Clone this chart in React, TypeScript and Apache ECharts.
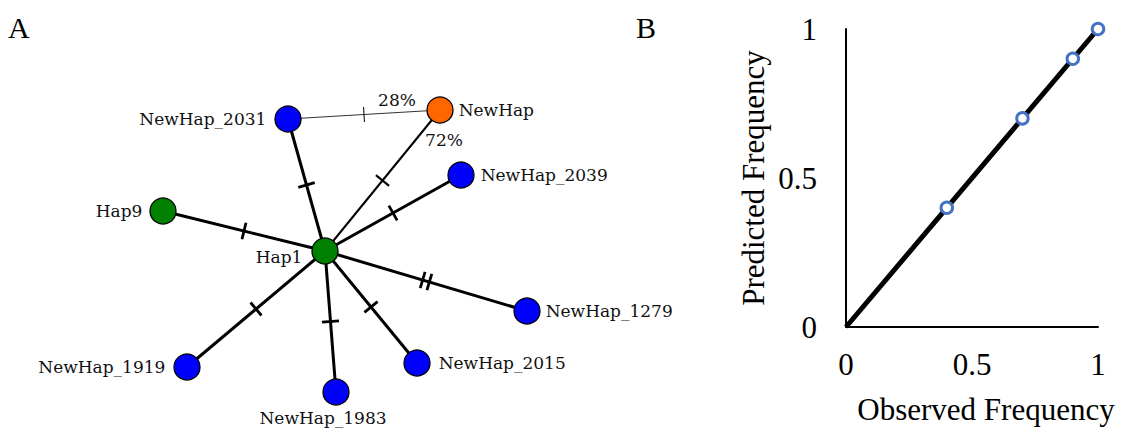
import { useEffect, useRef } from 'react';
import * as echarts from 'echarts';

// ---------- Panel A: haplotype network ----------
const nodeNames = ['Hap1', 'Hap9', 'NewHap_2031', 'NewHap', 'NewHap_2039', 'NewHap_1279', 'NewHap_2015', 'NewHap_1983', 'NewHap_1919'];
const nodeX = [325, 163, 288, 440, 461, 527, 417, 336, 187];
const nodeY = [251, 211, 119, 110, 175, 311, 363, 392, 367];
const nodeKinds = ['known', 'known', 'new', 'query', 'new', 'new', 'new', 'new', 'new'];
const labelSides = ['left', 'left', 'left', 'right', 'right', 'right', 'right', 'bottom', 'left'];

const edgeSource = ['Hap1', 'Hap1', 'Hap1', 'Hap1', 'Hap1', 'Hap1', 'Hap1', 'Hap1', 'NewHap_2031'];
const edgeTarget = ['Hap9', 'NewHap_2031', 'NewHap', 'NewHap_2039', 'NewHap_1279', 'NewHap_2015', 'NewHap_1983', 'NewHap_1919', 'NewHap'];
const edgeMutations = [1, 1, 1, 1, 2, 1, 1, 1, 1];
const edgeKinds = ['main', 'main', 'query', 'main', 'main', 'main', 'main', 'main', 'minor'];

const edgeLabelTexts = ['28%', '72%'];
const edgeLabelX = [397, 444];
const edgeLabelY = [100, 140];

// ---------- Panel B: observed vs predicted ----------
const observedFreq = [0.4, 0.7, 0.9, 1.0];
const predictedFreq = [0.4, 0.7, 0.9, 1.0];
const fitLineX = [0, 1];
const fitLineY = [0, 1];

const kindColor: Record<string, string> = { known: '#008000', new: '#0000FF', query: '#FF6600' };
const edgeWidth: Record<string, number> = { main: 3, query: 2, minor: 1 };
const edgeColor: Record<string, string> = { main: '#000000', query: '#000000', minor: '#333333' };

const serif = 'Liberation Serif';
const netFont = 'DejaVu Serif';

function labelFor(side: string, name: string) {
  const base: any = {
    show: true,
    position: side,
    fontFamily: netFont,
    fontSize: 17,
    color: '#111',
    distance: 7,
  };
  if (name === 'Hap1') { base.offset = [-2, 6]; }
  if (name === 'NewHap' || name === 'NewHap_1279') { base.distance = 5; }
  if (name === 'NewHap_2039') { base.distance = 6; }
  if (name === 'NewHap_2015' || name === 'NewHap_1919' || name === 'NewHap_2031') { base.distance = 8; }
  if (side === 'bottom') { base.offset = [-13, 0]; base.distance = 4; }
  return base;
}

export default function App() {
  const ref = useRef<HTMLDivElement>(null);
  useEffect(() => {
    document.body.style.margin = '0';
    if (!ref.current) return;
    const chart = echarts.init(ref.current, undefined, { renderer: 'svg' });

    const pos: Record<string, [number, number]> = {};
    nodeNames.forEach((n, i) => { pos[n] = [nodeX[i], nodeY[i]]; });

    const graphNodes = nodeNames.map((n, i) => ({
      name: n,
      value: [nodeX[i], nodeY[i]],
      symbolSize: 26,
      itemStyle: { color: kindColor[nodeKinds[i]], borderColor: '#000', borderWidth: 1.3 },
      label: labelFor(labelSides[i], n),
    }));

    const graphLinks = edgeSource.map((s, i) => ({
      source: s,
      target: edgeTarget[i],
      lineStyle: { width: edgeWidth[edgeKinds[i]], color: edgeColor[edgeKinds[i]], opacity: 1, curveness: 0 },
    }));

    const tickData = edgeSource.map((s, i) => [
      pos[s][0], pos[s][1], pos[edgeTarget[i]][0], pos[edgeTarget[i]][1], edgeMutations[i], edgeWidth[edgeKinds[i]],
    ]);

    const option: any = {
      animation: false,
      grid: [
        { left: 0, top: 0, width: 1121, height: 432 },
        { left: 846, top: 29, width: 252, height: 298 },
      ],
      xAxis: [
        { gridIndex: 0, type: 'value', min: 0, max: 1121, show: false },
        {
          gridIndex: 1, type: 'value', min: 0, max: 1, interval: 0.5,
          axisLine: { show: true, lineStyle: { color: '#000', width: 2 } },
          axisTick: { show: false },
          splitLine: { show: false },
          axisLabel: { color: '#000', fontFamily: serif, fontSize: 31, margin: 22 },
          name: 'Observed Frequency',
          nameLocation: 'middle',
          nameGap: 67,
          nameTextStyle: { color: '#000', fontFamily: serif, fontSize: 31, padding: [0, 0, 0, 28] },
        },
      ],
      yAxis: [
        { gridIndex: 0, type: 'value', min: 0, max: 432, inverse: true, show: false },
        {
          gridIndex: 1, type: 'value', min: 0, max: 1, interval: 0.5,
          axisLine: { show: true, lineStyle: { color: '#000', width: 2 } },
          axisTick: { show: false },
          splitLine: { show: false },
          axisLabel: { color: '#000', fontFamily: serif, fontSize: 31, margin: 29 },
          name: 'Predicted Frequency',
          nameLocation: 'middle',
          nameGap: 77,
          nameTextStyle: { color: '#000', fontFamily: serif, fontSize: 31 },
        },
      ],
      graphic: [
        { type: 'text', left: 8, top: 12, style: { text: 'A', fontFamily: serif, fontSize: 30, fill: '#000' } },
        { type: 'text', left: 636, top: 12, style: { text: 'B', fontFamily: serif, fontSize: 30, fill: '#000' } },
      ],
      series: [
        {
          type: 'graph',
          coordinateSystem: 'cartesian2d',
          xAxisIndex: 0,
          yAxisIndex: 0,
          layout: 'none',
          symbol: 'circle',
          data: graphNodes,
          links: graphLinks,
          emphasis: { disabled: true },
          silent: true,
          z: 2,
        },
        {
          type: 'custom',
          xAxisIndex: 0,
          yAxisIndex: 0,
          data: tickData,
          silent: true,
          z: 3,
          renderItem: (params: any, api: any) => {
            const p1 = api.coord([api.value(0), api.value(1)]);
            const p2 = api.coord([api.value(2), api.value(3)]);
            const count = api.value(4);
            const w = api.value(5);
            const dx = p2[0] - p1[0];
            const dy = p2[1] - p1[1];
            const len = Math.sqrt(dx * dx + dy * dy);
            const ux = dx / len, uy = dy / len;
            const nx = -uy, ny = ux;
            const mx = (p1[0] + p2[0]) / 2, my = (p1[1] + p2[1]) / 2;
            const half = w >= 2 ? 8.5 : 7.5;
            const spacing = 7;
            const children: any[] = [];
            for (let k = 0; k < count; k++) {
              const off = (k - (count - 1) / 2) * spacing;
              const cx = mx + ux * off, cy = my + uy * off;
              children.push({
                type: 'line',
                shape: { x1: cx - nx * half, y1: cy - ny * half, x2: cx + nx * half, y2: cy + ny * half },
                style: { stroke: '#000', lineWidth: w >= 3 ? 2.8 : w },
              });
            }
            return { type: 'group', children };
          },
        },
        {
          type: 'scatter',
          xAxisIndex: 0,
          yAxisIndex: 0,
          symbolSize: 0,
          silent: true,
          itemStyle: { opacity: 1 },
          data: edgeLabelTexts.map((t, i) => ({ name: t, value: [edgeLabelX[i], edgeLabelY[i]] })),
          label: { show: true, position: 'inside', formatter: '{b}', fontFamily: netFont, fontSize: 17, color: '#111', opacity: 1 },
          z: 4,
        },
        {
          type: 'line',
          xAxisIndex: 1,
          yAxisIndex: 1,
          data: fitLineX.map((x, i) => [x, fitLineY[i]]),
          showSymbol: false,
          symbol: 'none',
          lineStyle: { color: '#000', width: 5 },
          silent: true,
          z: 2,
        },
        {
          type: 'scatter',
          xAxisIndex: 1,
          yAxisIndex: 1,
          data: observedFreq.map((x, i) => [x, predictedFreq[i]]),
          symbol: 'circle',
          symbolSize: 11.5,
          itemStyle: { color: '#ffffff', borderColor: '#4472C4', borderWidth: 3, opacity: 1 },
          silent: true,
          z: 3,
        },
      ],
    };
    chart.setOption(option);
    return () => { chart.dispose(); };
  }, []);
  return <div ref={ref} style={{ width: 1121, height: 432 }} />;
}
